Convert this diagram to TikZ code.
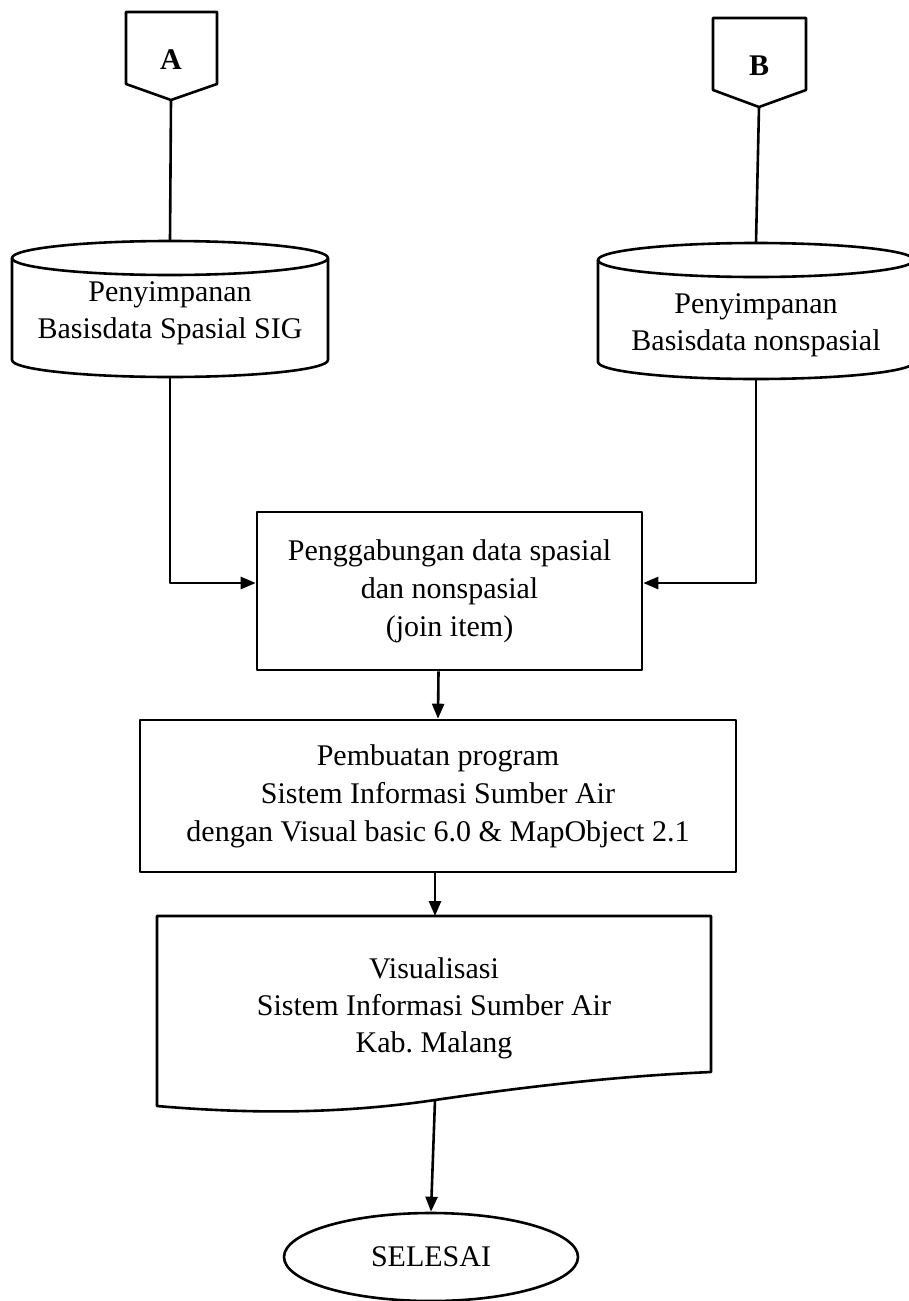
\documentclass[tikz,border=0pt]{standalone}
\usepackage{fontspec}
\setmainfont{Liberation Serif}
\usetikzlibrary{arrows.meta,shapes.geometric}
\begin{document}
\begin{tikzpicture}[x=1pt,y=-1pt,
  line width=2.6pt, line join=round,
  txt/.style={align=center, font=\fontsize{30}{37}\selectfont, inner sep=0pt},
  lbl/.style={font=\bfseries\fontsize{30}{32}\selectfont, inner sep=0pt},
  procbox/.style={draw, rectangle, inner sep=0pt, align=center,
                  font=\fontsize{30}{38}\selectfont},
  arr/.style={-{Triangle[length=15pt,width=12pt]}},
]
\useasboundingbox (0,0) rectangle (909,1301);

% off-page connectors
\draw (126,12) -- (217,12) -- (217,84) -- (171,100) -- (126,84) -- cycle;
\node[lbl] (A) at (171,60) {A};
\coordinate (Apt) at (171,100);
\draw (713,18) -- (806,18) -- (806,90) -- (759,107) -- (713,90) -- cycle;
\node[lbl] (B) at (759,66) {B};
\coordinate (Bpt) at (759,107);

% storage cylinders
\draw (170,258) ellipse [x radius=158, y radius=17];
\draw (12,258) -- (12,360) arc[start angle=180, end angle=0, x radius=158, y radius=17] -- (328,258);
\node[txt] (cylA) at (170,313) {Penyimpanan\\Basisdata Spasial SIG};
\coordinate (cylAtop) at (170,241);
\coordinate (cylAbot) at (170,377);

\draw (756,260) ellipse [x radius=158, y radius=17];
\draw (598,260) -- (598,362) arc[start angle=180, end angle=0, x radius=158, y radius=17] -- (914,260);
\node[txt] (cylB) at (756,325) {Penyimpanan\\Basisdata nonspasial};
\coordinate (cylBtop) at (756,243);
\coordinate (cylBbot) at (756,379);

% process boxes
\node[procbox, minimum width=385, minimum height=158] (join) at (449.5,591)
  {Penggabungan data spasial\\dan nonspasial\\(join item)};
\node[procbox, minimum width=596, minimum height=152] (prog) at (438,796)
  {Pembuatan program\\Sistem Informasi Sumber Air\\dengan Visual basic 6.0 \& MapObject 2.1};

% document shape
\draw (157,916) -- (711,916) -- (711,1072)
  .. controls (620,1076) and (530,1086) .. (435,1100)
  .. controls (340,1114) and (250,1114) .. (157,1106) -- cycle;
\node[txt] (vis) at (434,1008) {Visualisasi\\Sistem Informasi Sumber Air\\Kab.\ Malang};
\coordinate (doctop) at (435,916);
\coordinate (docbot) at (435,1100);

% terminator
\node[draw, ellipse, minimum width=294, minimum height=88, inner sep=0pt,
      font=\fontsize{30}{36}\selectfont] (end) at (431,1257) {SELESAI};

% connectors
\draw (Apt) -- (cylAtop);
\draw (Bpt) -- (cylBtop);
\draw[arr] (cylAbot) |- ([yshift=8pt]join.west);
\draw[arr] (cylBbot) |- ([yshift=8pt]join.east);
\draw[arr] ([xshift=-11pt]join.south) -- (prog.north);
\draw[arr] (prog.south -| doctop) -- (doctop);
\draw[arr] (docbot) -- (end.north);
\end{tikzpicture}
\end{document}
